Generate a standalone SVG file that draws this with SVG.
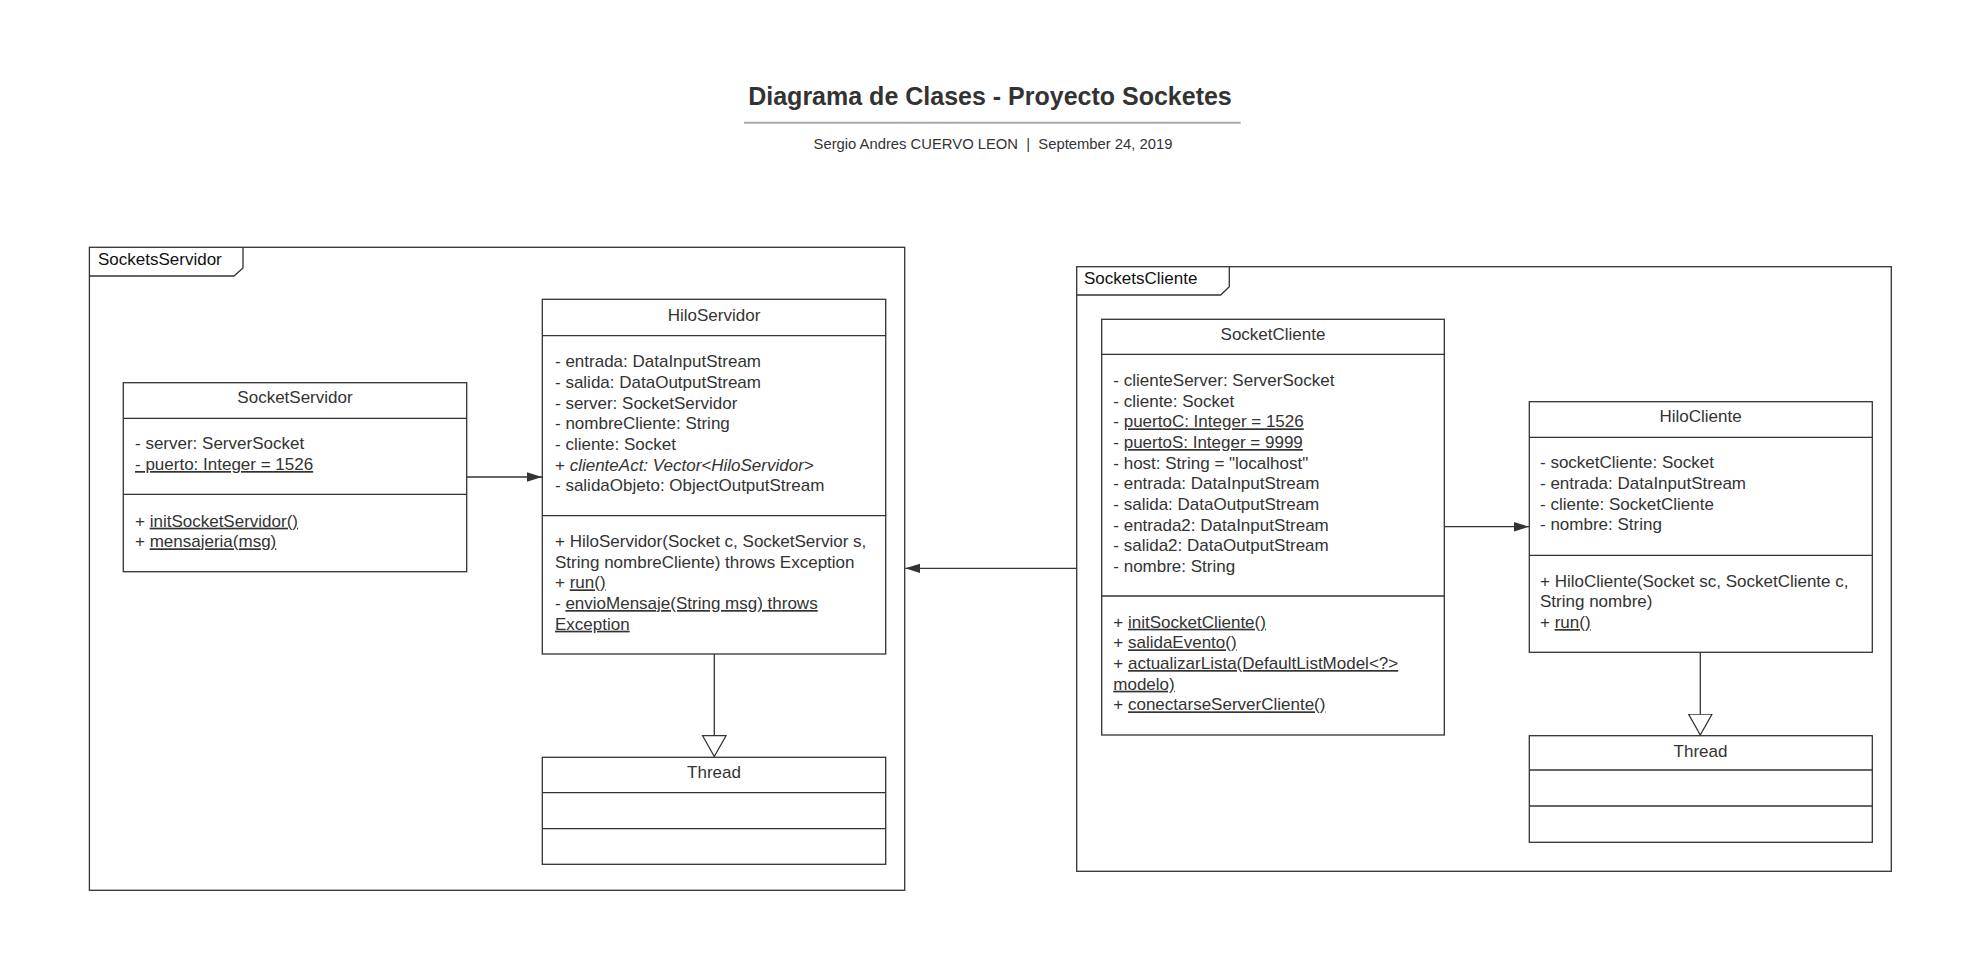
<svg xmlns="http://www.w3.org/2000/svg" width="1980" height="980" viewBox="0 0 1980 980">
<defs>
<style>
text{font-family:"Liberation Sans",Arial,sans-serif;fill:#333}
.t{font-size:17px}
.c{font-size:17px;text-anchor:middle}
.f{font-size:17px;fill:#111}
.u{text-decoration:underline}
.i{font-style:italic}
.box{fill:#fff;stroke:#333;stroke-width:1.3}
.ln{stroke:#333;stroke-width:1.3;fill:none}
</style>
<marker id="arr" markerUnits="userSpaceOnUse" markerWidth="16" markerHeight="10" refX="15" refY="4.7" orient="auto">
<path d="M0,0 L15,4.7 L0,9.4 z" fill="#333"/>
</marker>
<marker id="gen" markerUnits="userSpaceOnUse" markerWidth="24" markerHeight="27" refX="21.5" refY="12.4" orient="auto">
<path d="M0.7,0.7 L21.5,12.4 L0.7,24.1 z" fill="#fff" stroke="#333" stroke-width="1.3"/>
</marker>
</defs>
<rect width="1980" height="980" fill="#fff"/>

<g id="header">
<text x="990" y="104.5" style="font-size:25px;font-weight:bold;text-anchor:middle">Diagrama de Clases - Proyecto Socketes</text>
<line x1="744" y1="122.7" x2="1240.7" y2="122.7" stroke="#aaa" stroke-width="2"/>
<text x="993" y="149" style="font-size:14.8px;text-anchor:middle">Sergio Andres CUERVO LEON &#160;| &#160;September 24, 2019</text>
</g>

<g id="frame-servidor">
<rect class="box" x="89.4" y="247.3" width="815.3" height="643"/>
<path class="ln" d="M89.4,276 H234 L243,268 V247.3"/>
<text class="f" x="98" y="265">SocketsServidor</text>
</g>

<g id="frame-cliente">
<rect class="box" x="1076.7" y="266.7" width="814.6" height="604.6"/>
<path class="ln" d="M1076.7,295 H1220.7 L1229.3,286.7 V266.7"/>
<text class="f" x="1084" y="284.3">SocketsCliente</text>
</g>

<g id="SocketServidor">
<rect class="box" x="123.3" y="382.7" width="343.4" height="189"/>
<line class="ln" x1="123.3" y1="418.3" x2="466.7" y2="418.3"/>
<line class="ln" x1="123.3" y1="494.3" x2="466.7" y2="494.3"/>
<text class="c" x="295" y="403.3">SocketServidor</text>
<text class="t" x="135" y="449.3">- server: ServerSocket</text>
<text class="t u" x="135" y="470">- puerto: Integer = 1526</text>
<text class="t" x="135" y="526.7">+ <tspan class="u">initSocketServidor()</tspan></text>
<text class="t" x="135" y="547.3">+ <tspan class="u">mensajeria(msg)</tspan></text>
</g>

<g id="HiloServidor">
<rect class="box" x="542.3" y="299.3" width="343.4" height="354.7"/>
<line class="ln" x1="542.3" y1="335.7" x2="885.7" y2="335.7"/>
<line class="ln" x1="542.3" y1="515.7" x2="885.7" y2="515.7"/>
<text class="c" x="714" y="320.7">HiloServidor</text>
<text class="t" x="555" y="367.3">- entrada: DataInputStream</text>
<text class="t" x="555" y="388">- salida: DataOutputStream</text>
<text class="t" x="555" y="408.7">- server: SocketServidor</text>
<text class="t" x="555" y="429.3">- nombreCliente: String</text>
<text class="t" x="555" y="450">- cliente: Socket</text>
<text class="t" x="555" y="470.7">+ <tspan class="i">clienteAct: Vector&lt;HiloServidor&gt;</tspan></text>
<text class="t" x="555" y="491.3">- salidaObjeto: ObjectOutputStream</text>
<text class="t" x="555" y="547.3">+ HiloServidor(Socket c, SocketServior s,</text>
<text class="t" x="555" y="567.7">String nombreCliente) throws Exception</text>
<text class="t" x="555" y="588.3">+ <tspan class="u">run()</tspan></text>
<text class="t" x="555" y="609">- <tspan class="u">envioMensaje(String msg) throws</tspan></text>
<text class="t u" x="555" y="629.7">Exception</text>
</g>

<g id="ThreadServidor">
<rect class="box" x="542.3" y="757.3" width="343.4" height="107"/>
<line class="ln" x1="542.3" y1="792.7" x2="885.7" y2="792.7"/>
<line class="ln" x1="542.3" y1="828.7" x2="885.7" y2="828.7"/>
<text class="c" x="714" y="778.3">Thread</text>
</g>

<g id="SocketCliente">
<rect class="box" x="1101.7" y="319.3" width="342.6" height="415.7"/>
<line class="ln" x1="1101.7" y1="354.3" x2="1444.3" y2="354.3"/>
<line class="ln" x1="1101.7" y1="596" x2="1444.3" y2="596"/>
<text class="c" x="1273" y="340">SocketCliente</text>
<text class="t" x="1113.3" y="386">- clienteServer: ServerSocket</text>
<text class="t" x="1113.3" y="406.7">- cliente: Socket</text>
<text class="t" x="1113.3" y="427.3">- <tspan class="u">puertoC: Integer = 1526</tspan></text>
<text class="t" x="1113.3" y="448">- <tspan class="u">puertoS: Integer = 9999</tspan></text>
<text class="t" x="1113.3" y="468.7">- host: String = "localhost"</text>
<text class="t" x="1113.3" y="489.3">- entrada: DataInputStream</text>
<text class="t" x="1113.3" y="510">- salida: DataOutputStream</text>
<text class="t" x="1113.3" y="530.7">- entrada2: DataInputStream</text>
<text class="t" x="1113.3" y="551.3">- salida2: DataOutputStream</text>
<text class="t" x="1113.3" y="572">- nombre: String</text>
<text class="t" x="1113.3" y="627.7">+ <tspan class="u">initSocketCliente()</tspan></text>
<text class="t" x="1113.3" y="648.3">+ <tspan class="u">salidaEvento()</tspan></text>
<text class="t" x="1113.3" y="669">+ <tspan class="u">actualizarLista(DefaultListModel&lt;?&gt;</tspan></text>
<text class="t u" x="1113.3" y="689.7">modelo)</text>
<text class="t" x="1113.3" y="710.3">+ <tspan class="u">conectarseServerCliente()</tspan></text>
</g>

<g id="HiloCliente">
<rect class="box" x="1529.3" y="401.7" width="343" height="250.6"/>
<line class="ln" x1="1529.3" y1="437.3" x2="1872.3" y2="437.3"/>
<line class="ln" x1="1529.3" y1="555.3" x2="1872.3" y2="555.3"/>
<text class="c" x="1700.5" y="422.3">HiloCliente</text>
<text class="t" x="1540" y="468.3">- socketCliente: Socket</text>
<text class="t" x="1540" y="489">- entrada: DataInputStream</text>
<text class="t" x="1540" y="509.7">- cliente: SocketCliente</text>
<text class="t" x="1540" y="530.3">- nombre: String</text>
<text class="t" x="1540" y="586.7">+ HiloCliente(Socket sc, SocketCliente c,</text>
<text class="t" x="1540" y="607.3">String nombre)</text>
<text class="t" x="1540" y="628">+ <tspan class="u">run()</tspan></text>
</g>

<g id="ThreadCliente">
<rect class="box" x="1529.3" y="735.7" width="343" height="106.6"/>
<line class="ln" x1="1529.3" y1="770" x2="1872.3" y2="770"/>
<line class="ln" x1="1529.3" y1="806" x2="1872.3" y2="806"/>
<text class="c" x="1700.5" y="756.7">Thread</text>
</g>

<g id="connectors">
<line class="ln" x1="466.7" y1="477" x2="542" y2="477" marker-end="url(#arr)"/>
<line class="ln" x1="714.3" y1="654" x2="714.3" y2="756.5" marker-end="url(#gen)"/>
<line class="ln" x1="1076.7" y1="568.3" x2="905.3" y2="568.3" marker-end="url(#arr)"/>
<line class="ln" x1="1444.3" y1="526.7" x2="1529" y2="526.7" marker-end="url(#arr)"/>
<line class="ln" x1="1700.3" y1="652.3" x2="1700.3" y2="735" marker-end="url(#gen)"/>
</g>
</svg>
